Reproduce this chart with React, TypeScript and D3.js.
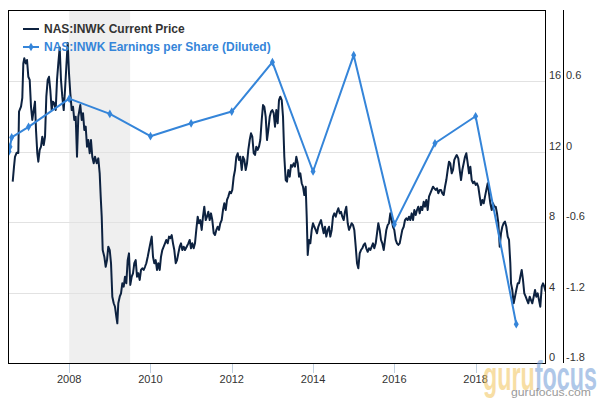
import React from "react";
import * as d3 from "d3";

// ---- Data ----
const priceLabel = "NAS:INWK Current Price";
const epsLabel = "NAS:INWK Earnings per Share (Diluted)";

// [decimal year, price in $]
const priceSeries: [number, number][] = [
  [2006.610,10.29],[2006.642,11.14],[2006.666,11.70],[2006.708,11.93],[2006.748,11.91],[2006.765,14.26],[2006.814,14.54],[2006.846,15.04],[2006.871,17.00],[2006.895,17.29],[2006.930,17.00],[2006.962,17.19],[2006.994,16.24],[2007.028,16.06],[2007.060,14.54],[2007.092,13.79],[2007.126,14.35],[2007.158,14.83],[2007.183,13.22],[2007.215,11.90],[2007.240,11.42],[2007.274,12.09],[2007.306,12.27],[2007.338,12.84],[2007.373,12.37],[2007.405,12.84],[2007.437,15.11],[2007.471,16.06],[2007.503,16.24],[2007.535,15.49],[2007.569,14.35],[2007.601,14.83],[2007.633,14.73],[2007.668,14.35],[2007.700,16.06],[2007.732,17.00],[2007.766,17.90],[2007.798,16.06],[2007.830,15.11],[2007.865,14.35],[2007.897,15.49],[2007.929,16.81],[2007.963,18.16],[2007.995,16.44],
  [2008.027,15.30],[2008.062,14.35],[2008.094,14.54],[2008.125,13.79],[2008.160,13.97],[2008.192,11.70],[2008.224,13.97],[2008.273,14.64],[2008.308,13.79],[2008.340,14.17],[2008.372,13.22],[2008.406,13.41],[2008.438,12.27],[2008.470,12.65],[2008.504,11.90],[2008.536,12.65],[2008.568,11.70],[2008.603,11.33],[2008.635,11.70],[2008.677,11.33],[2008.716,11.61],[2008.750,10.76],[2008.775,9.44],[2008.800,8.30],[2008.824,6.41],[2008.864,6.03],[2008.898,5.46],[2008.930,5.84],[2008.962,6.60],[2008.997,6.41],
  [2009.029,5.66],[2009.061,3.76],[2009.095,3.39],[2009.127,3.19],[2009.159,2.63],[2009.184,2.25],[2009.208,3.39],[2009.243,3.76],[2009.275,3.95],[2009.307,4.52],[2009.341,4.33],[2009.373,4.90],[2009.405,4.52],[2009.439,5.84],[2009.471,6.22],[2009.503,4.43],[2009.538,4.90],[2009.570,5.09],[2009.602,5.66],[2009.636,5.84],[2009.668,4.90],[2009.700,5.09],[2009.735,4.71],[2009.767,5.28],[2009.799,5.37],[2009.833,5.28],[2009.865,5.46],[2009.897,5.66],[2009.932,6.03],[2009.964,6.41],[2009.996,6.79],
  [2010.030,7.17],[2010.062,6.03],[2010.094,5.66],[2010.128,5.84],[2010.160,5.28],[2010.192,5.66],[2010.227,5.28],[2010.259,6.03],[2010.291,6.41],[2010.325,6.60],[2010.357,6.79],[2010.389,6.98],[2010.424,6.79],[2010.456,7.17],[2010.488,7.08],[2010.522,7.26],[2010.554,6.79],[2010.586,6.41],[2010.621,5.66],[2010.653,5.84],[2010.685,6.22],[2010.719,6.60],[2010.751,6.79],[2010.783,6.41],[2010.817,6.60],[2010.849,6.41],[2010.891,6.60],[2010.931,6.79],[2010.965,6.98],[2010.997,6.51],
  [2011.029,6.79],[2011.063,6.51],[2011.095,6.79],[2011.127,7.55],[2011.162,8.30],[2011.194,7.93],[2011.226,8.11],[2011.260,7.55],[2011.292,8.30],[2011.324,8.87],[2011.359,8.11],[2011.391,8.30],[2011.423,8.58],[2011.457,8.11],[2011.489,8.49],[2011.521,8.11],[2011.556,7.36],[2011.588,7.26],[2011.620,7.55],[2011.654,7.73],[2011.686,7.55],[2011.718,7.93],[2011.752,8.11],[2011.784,8.68],[2011.816,9.06],[2011.851,8.68],[2011.883,9.25],[2011.915,9.44],[2011.949,9.72],[2011.981,9.63],
  [2012.013,9.82],[2012.048,10.57],[2012.080,10.95],[2012.112,11.70],[2012.146,11.90],[2012.178,11.52],[2012.210,11.70],[2012.245,10.95],[2012.277,11.70],[2012.309,11.52],[2012.343,10.95],[2012.375,11.33],[2012.407,12.09],[2012.441,12.65],[2012.473,13.03],[2012.505,12.84],[2012.540,11.90],[2012.572,11.80],[2012.604,12.27],[2012.638,12.09],[2012.670,12.27],[2012.702,12.65],[2012.737,13.79],[2012.769,14.64],[2012.801,14.54],[2012.835,13.97],[2012.867,12.65],[2012.899,13.22],[2012.934,13.97],[2012.966,14.26],[2012.998,14.35],
  [2013.032,14.17],[2013.064,13.41],[2013.096,14.35],[2013.130,13.60],[2013.162,14.92],[2013.194,15.11],[2013.229,14.92],[2013.261,13.97],[2013.293,11.70],[2013.327,10.38],[2013.359,10.29],[2013.391,10.95],[2013.426,10.57],[2013.458,11.23],[2013.490,11.14],[2013.524,11.33],[2013.556,11.14],[2013.588,11.70],[2013.623,11.33],[2013.655,10.57],[2013.687,10.76],[2013.721,10.20],[2013.753,10.00],[2013.785,9.53],[2013.819,10.00],[2013.844,8.30],[2013.869,6.13],[2013.901,6.98],[2013.933,6.79],[2013.967,7.55],[2013.999,7.93],
  [2014.031,7.73],[2014.065,7.55],[2014.097,7.36],[2014.129,7.73],[2014.164,7.93],[2014.196,8.11],[2014.228,7.73],[2014.262,7.36],[2014.294,7.73],[2014.326,7.17],[2014.361,7.55],[2014.393,7.73],[2014.425,7.17],[2014.459,7.55],[2014.491,8.30],[2014.523,8.49],[2014.558,8.30],[2014.590,8.58],[2014.622,8.78],[2014.656,8.49],[2014.688,8.58],[2014.720,8.30],[2014.754,8.11],[2014.786,8.58],[2014.818,8.87],[2014.853,7.93],[2014.885,7.55],[2014.917,7.73],[2014.951,7.93],[2014.983,7.83],
  [2015.015,7.55],[2015.050,6.60],[2015.082,5.66],[2015.114,5.37],[2015.148,6.22],[2015.180,6.41],[2015.212,6.51],[2015.246,6.70],[2015.278,6.79],[2015.310,6.51],[2015.345,6.31],[2015.377,6.51],[2015.409,6.41],[2015.443,6.60],[2015.475,6.79],[2015.507,6.51],[2015.542,6.79],[2015.574,7.36],[2015.606,7.93],[2015.640,7.55],[2015.672,6.98],[2015.704,6.79],[2015.739,6.41],[2015.771,6.98],[2015.803,7.55],[2015.837,7.83],[2015.869,7.93],[2015.901,8.49],[2015.935,8.11],[2015.967,7.73],[2015.999,7.55],
  [2016.034,6.98],[2016.066,6.79],[2016.098,6.70],[2016.132,6.79],[2016.164,7.17],[2016.196,7.55],[2016.231,7.73],[2016.263,8.11],[2016.295,8.21],[2016.329,8.11],[2016.361,8.30],[2016.393,8.11],[2016.427,8.49],[2016.460,8.11],[2016.492,8.68],[2016.526,8.40],[2016.558,8.68],[2016.590,8.87],[2016.624,8.49],[2016.656,8.87],[2016.688,8.68],[2016.723,9.15],[2016.755,8.87],[2016.787,9.25],[2016.821,8.68],[2016.853,9.44],[2016.885,9.63],[2016.920,9.82],[2016.952,10.00],[2016.984,9.91],
  [2017.018,9.82],[2017.050,9.91],[2017.082,9.63],[2017.117,9.82],[2017.149,9.82],[2017.181,9.63],[2017.215,9.53],[2017.247,10.00],[2017.279,10.38],[2017.313,10.95],[2017.345,11.42],[2017.377,11.33],[2017.412,10.76],[2017.444,10.95],[2017.476,11.52],[2017.510,11.70],[2017.535,11.80],[2017.574,11.61],[2017.609,10.95],[2017.641,10.38],[2017.673,10.95],[2017.707,11.33],[2017.739,11.70],[2017.771,11.90],[2017.806,11.33],[2017.838,10.76],[2017.870,11.14],[2017.904,10.38],[2017.936,10.20],[2017.968,10.29],
  [2018.002,10.10],[2018.034,10.20],[2018.066,10.00],[2018.101,9.44],[2018.133,8.96],[2018.165,9.25],[2018.199,9.06],[2018.231,9.44],[2018.263,9.82],[2018.298,10.20],[2018.330,9.63],[2018.362,9.06],[2018.396,8.68],[2018.428,9.06],[2018.460,8.87],[2018.495,8.87],[2018.527,8.49],[2018.559,7.93],[2018.593,6.60],[2018.625,7.36],[2018.657,7.73],[2018.691,7.93],[2018.723,8.02],[2018.756,7.73],[2018.790,7.17],[2018.822,6.98],[2018.854,5.66],[2018.871,4.52],[2018.903,4.14],[2018.937,3.39],[2018.969,3.76],
  [2019.001,4.14],[2019.036,4.52],[2019.068,4.52],[2019.100,4.90],[2019.134,5.28],[2019.166,4.71],[2019.198,3.95],[2019.233,3.76],[2019.265,3.57],[2019.297,3.39],[2019.331,3.76],[2019.363,3.57],[2019.395,3.39],[2019.429,3.76],[2019.462,4.14],[2019.494,3.76],[2019.528,3.95],[2019.560,3.57],[2019.592,3.19],[2019.627,4.33],[2019.659,4.52],[2019.691,4.33],[2019.725,4.05],
];

// [decimal year, diluted EPS]
const epsSeries: [number, number][] = [
  [2006.519, 0.0], [2006.543, 0.04], [2006.585, 0.12],
  [2007.0, 0.21], [2008.0, 0.45], [2009.0, 0.32], [2010.0, 0.13],
  [2011.0, 0.24], [2012.0, 0.34], [2013.0, 0.76], [2014.0, -0.17],
  [2015.0, 0.82], [2016.0, -0.62], [2017.0, 0.07], [2018.0, 0.30],
  [2019.0, -1.47],
];

const xTickYears = [2008, 2010, 2012, 2014, 2016, 2018];
const priceTicks = [0, 4, 8, 12, 16];
const epsTicks = [-1.8, -1.2, -0.6, 0, 0.6];
const recessionBand: [number, number] = [2008.0, 2009.5];
const xDomain: [number, number] = [2006.494, 2019.732];

// ---- Layout ----
const W = 600, H = 400;
const L = 8, R = 546, T = 10, B = 363;
const PRICE_COLOR = "#0d2240";
const EPS_COLOR = "#3585d9";
const FONT = "'Liberation Sans', Arial, sans-serif";

export default function App() {
  const x = d3.scaleLinear().domain(xDomain).range([L, R]);
  const yP = d3.scaleLinear().domain([0, 16]).range([B, 81]);
  const yE = d3.scaleLinear().domain([-1.8, 0.6]).range([B, 81]);

  const priceLine = d3.line<[number, number]>().x(d => x(d[0])).y(d => yP(d[1]));
  const epsLine = d3.line<[number, number]>().x(d => x(d[0])).y(d => yE(d[1]));
  const diamond = d3.symbol().type(d3.symbolDiamond).size(22)();

  const fmtE = (v: number) => (v === 0 ? "0" : d3.format(".1f")(v).replace("−", "-"));

  return (
    <svg width={W} height={H} style={{ position: "absolute", left: 0, top: 0, background: "#fff" }}
      xmlns="http://www.w3.org/2000/svg">
      <defs>
        <clipPath id="plotClip">
          <rect x={L} y={T} width={R - L} height={B - T} />
        </clipPath>
      </defs>
      <rect x={0} y={0} width={W} height={H} fill="#fff" />
      {/* recession band */}
      <rect x={x(recessionBand[0])} y={T} width={x(recessionBand[1]) - x(recessionBand[0])}
        height={B - T} fill="#efefef" />
      {/* grid */}
      {priceTicks.filter(v => v > 0).map(v => (
        <line key={"g" + v} x1={L} x2={R} y1={Math.round(yP(v)) + 0.5} y2={Math.round(yP(v)) + 0.5}
          stroke="#e2e2e2" strokeWidth={1} />
      ))}
      {/* x ticks */}
      {xTickYears.map(yr => (
        <g key={"xt" + yr}>
          <line x1={Math.round(x(yr)) + 0.5} x2={Math.round(x(yr)) + 0.5} y1={B} y2={B + 10}
            stroke="#c0d0e0" strokeWidth={1} />
          <text x={x(yr)} y={383} textAnchor="middle" fontFamily={FONT} fontSize={11} fill="#333">
            {yr}
          </text>
        </g>
      ))}
      {/* series */}
      <g clipPath="url(#plotClip)">
        <path d={priceLine(priceSeries) || ""} fill="none" stroke={PRICE_COLOR} strokeWidth={2}
          strokeLinejoin="round" />
        <path d={epsLine(epsSeries) || ""} fill="none" stroke={EPS_COLOR} strokeWidth={2}
          strokeLinejoin="round" />
        {epsSeries.map((d, i) => (
          <path key={"m" + i} d={diamond || ""} transform={`translate(${x(d[0])},${yE(d[1])})`}
            fill={EPS_COLOR} />
        ))}
      </g>
      {/* plot border */}
      <rect x={L + 0.5} y={T + 0.5} width={R - L - 1} height={B - T} fill="none" stroke="#000" strokeWidth={1} />
      {/* right axis 1: price */}
      {priceTicks.map(v => (
        <text key={"p" + v} x={549} y={yP(v) - 2} fontFamily={FONT} fontSize={11} fill="#333">{v}</text>
      ))}
      {/* right axis 2: EPS */}
      <line x1={563.5} x2={563.5} y1={T} y2={B} stroke="#000" strokeWidth={1} />
      {epsTicks.map(v => (
        <text key={"e" + v} x={566} y={yE(v) - 2} fontFamily={FONT} fontSize={11} fill="#333">{fmtE(v)}</text>
      ))}
      {/* legend */}
      <line x1={23} x2={39} y1={29} y2={29} stroke={PRICE_COLOR} strokeWidth={2} />
      <text x={44} y={33} fontFamily={FONT} fontSize={12} fontWeight="bold" fill="#333">{priceLabel}</text>
      <line x1={23} x2={39} y1={47} y2={47} stroke={EPS_COLOR} strokeWidth={2} />
      <path d={diamond || ""} transform="translate(31,47)" fill={EPS_COLOR} />
      <text x={44} y={51} fontFamily={FONT} fontSize={12} fontWeight="bold" fill={EPS_COLOR}>{epsLabel}</text>
      {/* watermark */}
      <text x={483} y={390} fontFamily={FONT} fontSize={40} fontWeight="bold" textLength={114}
        lengthAdjust="spacingAndGlyphs" opacity={0.55}>
        <tspan fill="#f2c45a">guru</tspan>
        <tspan fill="#6f9bd6">focus</tspan>
      </text>
      <text x={511} y={396} fontFamily={FONT} fontSize={10} fill="#9a9a9a" textLength={80}
        lengthAdjust="spacingAndGlyphs">gurufocus.com</text>
    </svg>
  );
}
